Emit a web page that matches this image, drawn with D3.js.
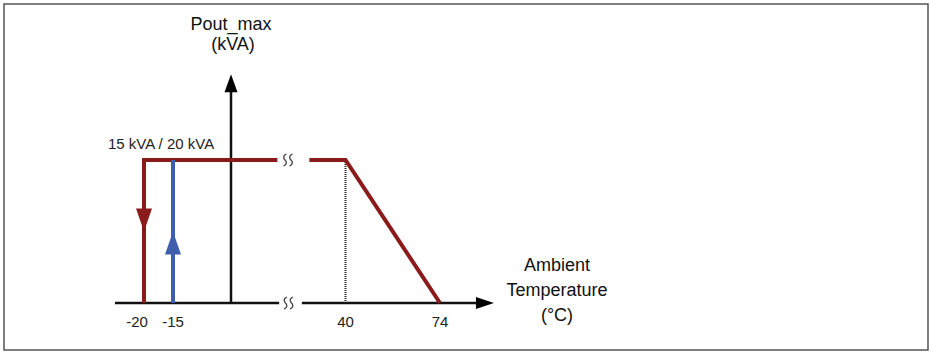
<!DOCTYPE html>
<html>
<head>
<meta charset="utf-8">
<script src="https://cdn.jsdelivr.net/npm/d3@7"></script>
<style>
  html, body { margin: 0; padding: 0; background: #fff; }
  svg { display: block; font-family: "Liberation Sans", Arial, sans-serif; }
</style>
</head>
<body>
<svg id="chart" width="930" height="352"></svg>
<script>
// ambient temperature (°C) and normalised output power (1 = rated)
const tickTemps = [-20, -15, 40, 74];
const ratedLabel = '15 kVA / 20 kVA';
const yTitle = ['Pout_max', '(kVA)'];
const xTitle = ['Ambient', 'Temperature', '(°C)'];

// red: derating above 40 °C (right of the break)
const derateT = [27, 40, 74];
const derateP = [1, 1, 0];
// red: switch-off when falling to -20 °C (left of the break)
const coolT = [3, -20, -20];
const coolP = [1, 1, 0];
// blue: restart when rising to -15 °C
const warmT = [-15, -15];
const warmP = [0, 1];

const red = '#8b1a1a';
const blue = '#3f5fae';

const svg = d3.select('#chart');

// frame
svg.append('rect')
  .attr('x', 4).attr('y', 4)
  .attr('width', 924).attr('height', 346)
  .attr('fill', 'none')
  .attr('stroke', '#555')
  .attr('stroke-width', 1.5);

// broken temperature axis: two linear pieces
const xL = d3.scaleLinear().domain([-20, -15]).range([144, 173]);
const xR = d3.scaleLinear().domain([40, 74]).range([345.5, 440]);
const x = t => (t <= 10 ? xL(t) : xR(t));
const y = d3.scaleLinear().domain([0, 1]).range([303, 160]);

const g = svg.append('g');

// x axis, left piece and right piece with arrow
g.append('line')
  .attr('x1', xL(-25)).attr('x2', xL(3.3))
  .attr('y1', y(0)).attr('y2', y(0))
  .attr('stroke', '#111').attr('stroke-width', 2.5);
g.append('line')
  .attr('x1', xR(24.3)).attr('x2', xR(88))
  .attr('y1', y(0)).attr('y2', y(0))
  .attr('stroke', '#111').attr('stroke-width', 2.5);
const xe = xR(93.4);
g.append('path')
  .attr('d', `M${xe},${y(0)} L${xe - 18},${y(0) - 6} L${xe - 18},${y(0) + 6} Z`)
  .attr('fill', '#000');

// y axis with arrow
const ya = xL(-5);
const yt = y(1.6);
g.append('line')
  .attr('x1', ya).attr('x2', ya)
  .attr('y1', y(0)).attr('y2', yt + 14)
  .attr('stroke', '#111').attr('stroke-width', 2.5);
g.append('path')
  .attr('d', `M${ya},${yt} L${ya - 6.5},${yt + 18} L${ya + 6.5},${yt + 18} Z`)
  .attr('fill', '#000');

// dotted guide at 40 °C
g.append('line')
  .attr('x1', xR(40)).attr('x2', xR(40))
  .attr('y1', y(1)).attr('y2', y(0))
  .attr('stroke', '#222').attr('stroke-width', 2)
  .attr('stroke-dasharray', '1,1');

const line = d3.line().x(d => x(d[0])).y(d => y(d[1]));

g.append('path')
  .datum(derateT.map((t, i) => [t, derateP[i]]))
  .attr('d', line)
  .attr('fill', 'none').attr('stroke', red).attr('stroke-width', 4)
  .attr('stroke-linejoin', 'miter');

g.append('path')
  .datum(coolT.map((t, i) => [t, coolP[i]]))
  .attr('d', line)
  .attr('fill', 'none').attr('stroke', red).attr('stroke-width', 4)
  .attr('stroke-linejoin', 'miter');

g.append('path')
  .datum(warmT.map((t, i) => [t, warmP[i]]))
  .attr('d', line)
  .attr('fill', 'none').attr('stroke', blue).attr('stroke-width', 4);

// direction arrowheads at mid height
const ym = y(0.5);
const cx = xL(-20);
g.append('path')
  .attr('d', `M${cx},${ym} L${cx - 8},${ym - 23} L${cx + 8},${ym - 23} Z`)
  .attr('fill', red);
const wx = xL(-15);
g.append('path')
  .attr('d', `M${wx},${ym} L${wx - 8},${ym + 23} L${wx + 8},${ym + 23} Z`)
  .attr('fill', blue);

// break marks (two wavy strokes)
function breakMark(cxm, cym) {
  [-3, 3].forEach(o => {
    const bx = cxm + o;
    g.append('path')
      .attr('d', `M${bx + 1.5},${cym - 6} C${bx - 3},${cym - 4} ${bx - 1},${cym - 1} ${bx},${cym}` +
                 ` S${bx + 3},${cym + 4} ${bx - 1.5},${cym + 6}`)
      .attr('fill', 'none').attr('stroke', '#444').attr('stroke-width', 1.3);
  });
}
breakMark(288, y(1));
breakMark(288.5, y(0));

// tick labels
g.selectAll('.tick-label')
  .data(tickTemps)
  .enter().append('text')
  .attr('class', 'tick-label')
  .attr('x', d => x(d) + (d === -20 ? -7 : 0))
  .attr('y', 327)
  .attr('text-anchor', 'middle')
  .attr('font-size', 15)
  .attr('fill', '#222')
  .text(d => d);

// rated label
g.append('text')
  .attr('x', 108).attr('y', 149)
  .attr('font-size', 15)
  .attr('fill', '#222')
  .text(ratedLabel);

// axis titles
g.selectAll('.ytitle')
  .data(yTitle)
  .enter().append('text')
  .attr('class', 'ytitle')
  .attr('x', (d, i) => ya + i * 2)
  .attr('y', (d, i) => 30 + i * 20)
  .attr('text-anchor', 'middle')
  .attr('font-size', 18)
  .attr('fill', '#111')
  .text(d => d);

g.selectAll('.xtitle')
  .data(xTitle)
  .enter().append('text')
  .attr('class', 'xtitle')
  .attr('x', 557)
  .attr('y', (d, i) => 271 + i * 25)
  .attr('text-anchor', 'middle')
  .attr('font-size', 18)
  .attr('fill', '#111')
  .text(d => d);
</script>
</body>
</html>
